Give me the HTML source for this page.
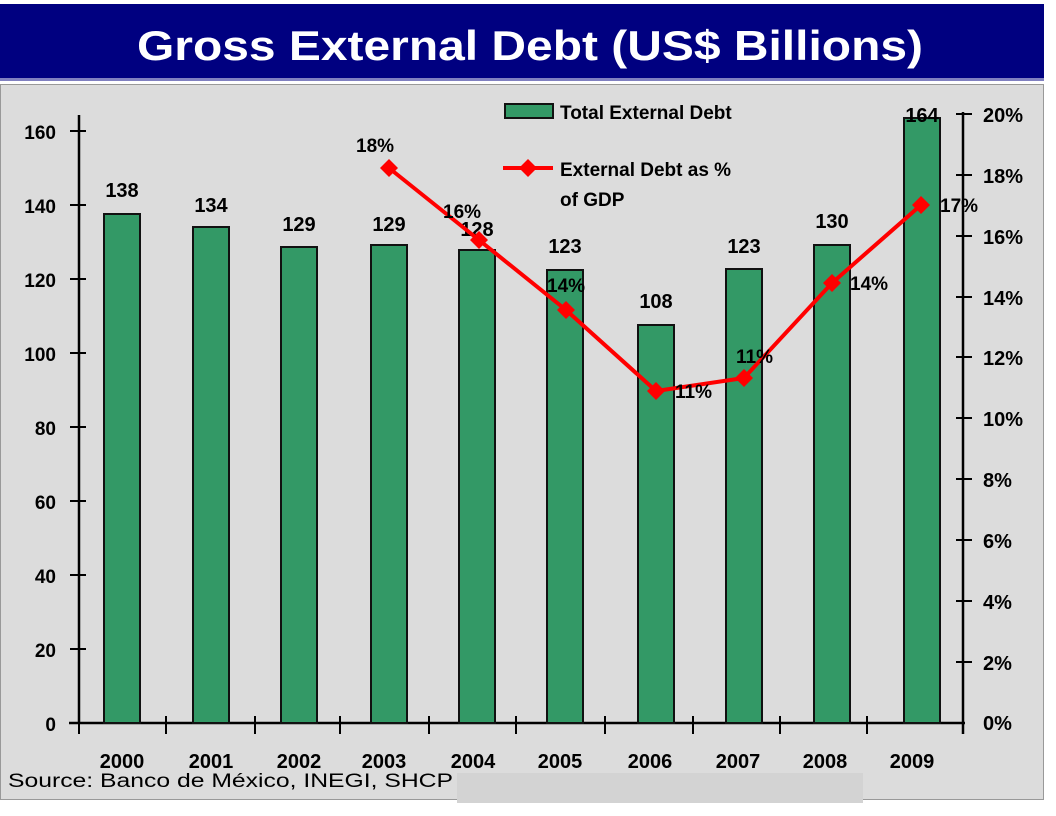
<!DOCTYPE html>
<html><head><meta charset="utf-8"><style>
html,body{margin:0;padding:0;background:#fff;}
svg{display:block;}
text{font-family:"Liberation Sans",sans-serif;}
</style></head><body>
<svg width="1056" height="816" viewBox="0 0 1056 816" xmlns="http://www.w3.org/2000/svg">
<rect x="0" y="0" width="1056" height="816" fill="#fff"/>
<rect x="0" y="4" width="1044" height="74" fill="#000080"/>
<rect x="0" y="78" width="1044" height="3" fill="#8080c0"/>
<text x="530" y="60" font-size="42" font-weight="bold" fill="#fff" text-anchor="middle" textLength="786" lengthAdjust="spacingAndGlyphs">Gross External Debt (US$ Billions)</text>
<rect x="0.5" y="84.5" width="1043" height="715" fill="#dcdcdc" stroke="#999"/>
<rect x="457" y="773" width="406" height="30" fill="#d3d3d3"/>
<g stroke="#000" stroke-width="2.5" fill="none">
<line x1="79" y1="115" x2="79" y2="724"/>
<line x1="69" y1="723" x2="965" y2="723"/>
<line x1="963" y1="112" x2="963" y2="734"/>
</g>
<g stroke="#000" stroke-width="2">
<line x1="70" y1="131" x2="86" y2="131"/><line x1="70" y1="205" x2="86" y2="205"/><line x1="70" y1="279" x2="86" y2="279"/><line x1="70" y1="353" x2="86" y2="353"/><line x1="70" y1="427" x2="86" y2="427"/><line x1="70" y1="501" x2="86" y2="501"/><line x1="70" y1="575" x2="86" y2="575"/><line x1="70" y1="649" x2="86" y2="649"/>
<line x1="956" y1="114" x2="972" y2="114"/><line x1="956" y1="175" x2="972" y2="175"/><line x1="956" y1="236" x2="972" y2="236"/><line x1="956" y1="297" x2="972" y2="297"/><line x1="956" y1="357" x2="972" y2="357"/><line x1="956" y1="418" x2="972" y2="418"/><line x1="956" y1="479" x2="972" y2="479"/><line x1="956" y1="540" x2="972" y2="540"/><line x1="956" y1="601" x2="972" y2="601"/><line x1="956" y1="662" x2="972" y2="662"/>
<line x1="79" y1="723" x2="79" y2="734"/><line x1="166" y1="716" x2="166" y2="734"/><line x1="255" y1="716" x2="255" y2="734"/><line x1="340" y1="716" x2="340" y2="734"/><line x1="429" y1="716" x2="429" y2="734"/><line x1="516" y1="716" x2="516" y2="734"/><line x1="605" y1="716" x2="605" y2="734"/><line x1="693" y1="716" x2="693" y2="734"/><line x1="780" y1="716" x2="780" y2="734"/><line x1="867" y1="716" x2="867" y2="734"/>
</g>
<g font-size="19" font-weight="bold" fill="#000" text-anchor="end">
<text x="56" y="139">160</text><text x="56" y="213">140</text><text x="56" y="287">120</text><text x="56" y="361">100</text><text x="56" y="435">80</text><text x="56" y="509">60</text><text x="56" y="583">40</text><text x="56" y="657">20</text><text x="56" y="731">0</text>
</g>
<g font-size="20" font-weight="bold" fill="#000">
<text x="983" y="122">20%</text><text x="983" y="183">18%</text><text x="983" y="244">16%</text><text x="983" y="305">14%</text><text x="983" y="365">12%</text><text x="983" y="426">10%</text><text x="983" y="487">8%</text><text x="983" y="548">6%</text><text x="983" y="609">4%</text><text x="983" y="670">2%</text><text x="983" y="730">0%</text>
</g>
<g fill="#339966" stroke="#111" stroke-width="2">
<rect x="104" y="214" width="36" height="509"/>
<rect x="193" y="227" width="36" height="496"/>
<rect x="281" y="247" width="36" height="476"/>
<rect x="371" y="245" width="36" height="478"/>
<rect x="459" y="250" width="36" height="473"/>
<rect x="547" y="270" width="36" height="453"/>
<rect x="638" y="325" width="36" height="398"/>
<rect x="726" y="269" width="36" height="454"/>
<rect x="814" y="245" width="36" height="478"/>
<rect x="904" y="118" width="36" height="605"/>
</g>
<g font-size="20" font-weight="bold" fill="#000" text-anchor="middle">
<text x="122" y="197">138</text><text x="211" y="212">134</text><text x="299" y="231">129</text><text x="389" y="231">129</text><text x="477" y="236">128</text><text x="565" y="253">123</text><text x="656" y="308">108</text><text x="744" y="253">123</text><text x="832" y="228">130</text><text x="922" y="122">164</text>
</g>
<polyline points="389,168 479,240 566,310 656,391 744,378 832,283 921,205" fill="none" stroke="#ff0000" stroke-width="4"/>
<g fill="#ff0000">
<path d="M389,159 l9,9 -9,9 -9,-9z"/><path d="M479,231 l9,9 -9,9 -9,-9z"/><path d="M566,301 l9,9 -9,9 -9,-9z"/><path d="M656,382 l9,9 -9,9 -9,-9z"/><path d="M744,369 l9,9 -9,9 -9,-9z"/><path d="M832,274 l9,9 -9,9 -9,-9z"/><path d="M921,196 l9,9 -9,9 -9,-9z"/>
</g>
<g font-size="19" font-weight="bold" fill="#000">
<text x="356" y="152">18%</text><text x="443" y="218">16%</text><text x="547" y="292">14%</text><text x="675" y="398">11%</text><text x="736" y="363">11%</text><text x="850" y="290">14%</text><text x="940" y="212">17%</text>
</g>
<rect x="505" y="104" width="48" height="14" fill="#339966" stroke="#111" stroke-width="2"/>
<text x="560" y="119" font-size="19" font-weight="bold" fill="#000">Total External Debt</text>
<line x1="503" y1="168" x2="553" y2="168" stroke="#ff0000" stroke-width="4"/>
<path d="M528,159 l9,9 -9,9 -9,-9z" fill="#ff0000"/>
<text x="560" y="176" font-size="19" font-weight="bold" fill="#000">External Debt as %</text>
<text x="560" y="206" font-size="19" font-weight="bold" fill="#000">of GDP</text>
<g font-size="20" font-weight="bold" fill="#000" text-anchor="middle">
<text x="122" y="768">2000</text><text x="211" y="768">2001</text><text x="299" y="768">2002</text><text x="384" y="768">2003</text><text x="473" y="768">2004</text><text x="560" y="768">2005</text><text x="650" y="768">2006</text><text x="738" y="768">2007</text><text x="825" y="768">2008</text><text x="912" y="768">2009</text>
</g>
<text x="8" y="787" font-size="19" fill="#000" textLength="445" lengthAdjust="spacingAndGlyphs">Source: Banco de México, INEGI, SHCP</text>
</svg>
</body></html>
